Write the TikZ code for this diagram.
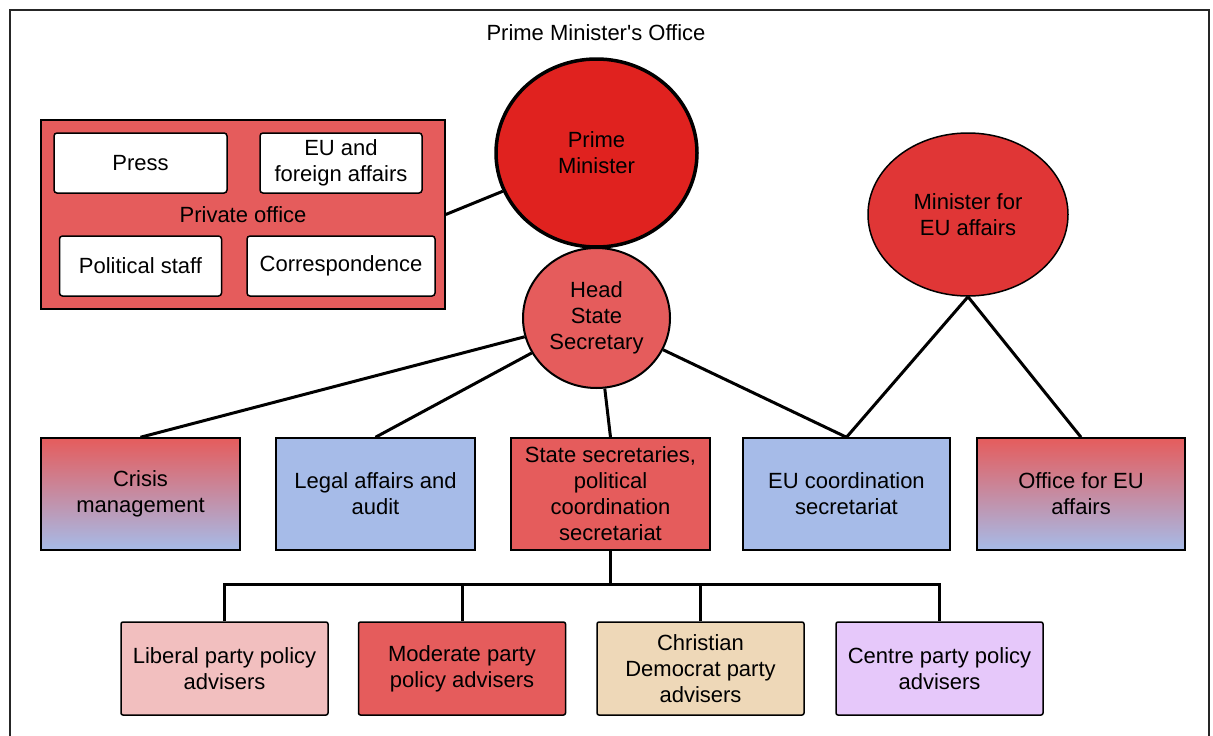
\documentclass[tikz,border=0pt]{standalone}
\usepackage{fontspec}
\setmainfont{Liberation Sans}
\usetikzlibrary{shapes.geometric}
\definecolor{pmred}{RGB}{224,34,31}
\definecolor{lightred}{RGB}{229,92,92}
\definecolor{eured}{RGB}{224,54,54}
\definecolor{unitblue}{RGB}{166,187,232}
\definecolor{libpink}{RGB}{242,191,191}
\definecolor{cdtan}{RGB}{238,216,184}
\definecolor{centrelilac}{RGB}{230,200,250}
\begin{document}
\begin{tikzpicture}[x=1pt, y=-1pt, font=\fontsize{22}{26}\selectfont,
        office/.style = {draw, line width=1.5pt, fill=lightred, inner sep=0pt},
        desk/.style = {draw, line width=1.5pt, fill=white, rounded corners=3pt, inner sep=0pt, minimum height=60pt, align=center},
        head/.style = {draw, ellipse, inner sep=0pt, align=center},
        unit/.style = {draw, line width=1.5pt, inner sep=0pt, minimum height=112pt, align=center},
        party/.style = {draw, line width=1.5pt, rounded corners=2pt, inner sep=0pt, minimum width=207pt, minimum height=93pt, align=center},
        link/.style = {line width=3pt}]
    \useasboundingbox (0,0) rectangle (1213,736);
    \draw[line width=1.5pt, black!85] (10,740) -- (10,10) -- (1209,10) -- (1209,740);
    \node (title) at (596,33) {Prime Minister\textquotesingle s Office};

    % private office
    \node[office, minimum width=404pt, minimum height=189pt] (private) at (243,214.5) {Private office};
    \node[desk, minimum width=173pt] (press) at (140.5,163) {Press};
    \node[desk, minimum width=162pt] (eufa) at (341,163) {EU and\\foreign affairs};
    \node[desk, minimum width=162pt] (polstaff) at (140.5,266) {Political staff};
    \node[desk, minimum width=188pt] (corr) at (341,266) {Correspondence};

    % ministers
    \node[head, line width=3.5pt, fill=pmred, minimum width=201pt, minimum height=188pt] (pm) at (596.5,153) {Prime\\Minister};
    \node[head, line width=2pt, fill=lightred, minimum width=147pt, minimum height=140pt] (hss) at (596.5,318) {Head\\State\\Secretary};
    \node[head, line width=1.5pt, fill=eured, minimum width=200pt, minimum height=163pt] (meu) at (968,214.5) {Minister for\\EU affairs};

    % units
    \node[unit, minimum width=199pt, top color=lightred, bottom color=unitblue] (crisis) at (140.5,494) {Crisis\\management};
    \node[unit, minimum width=199pt, fill=unitblue] (legal) at (375.5,494) {Legal affairs and\\audit};
    \node[unit, minimum width=199pt, fill=lightred] (statesec) at (610.5,494) {State secretaries,\\political\\coordination\\secretariat};
    \node[unit, minimum width=207pt, fill=unitblue] (eucoord) at (846.5,494) {EU coordination\\secretariat};
    \node[unit, minimum width=208pt, top color=lightred, bottom color=unitblue] (euoffice) at (1081,494) {Office for EU\\affairs};

    % party advisers
    \node[party, fill=libpink] (liberal) at (224.5,668.5) {Liberal party policy\\advisers};
    \node[party, fill=lightred] (moderate) at (462,668.5) {Moderate party\\policy advisers};
    \node[party, fill=cdtan] (christian) at (700.5,668.5) {Christian\\Democrat party\\advisers};
    \node[party, fill=centrelilac] (centre) at (939.5,668.5) {Centre party policy\\advisers};
    \coordinate (bus) at (610.5,584);

    \draw[link] (private.east) -- (pm);
    \draw[link] (hss) -- (crisis.north);
    \draw[link] (hss) -- (legal.north);
    \draw[link] (hss) -- (statesec.north);
    \draw[link] (hss) -- (eucoord.north);
    \draw[link] (meu.south) -- (eucoord.north);
    \draw[link] (meu.south) -- (euoffice.north);
    \draw[link] (statesec.south) -- (bus);
    \draw[link] (liberal.north) -- (liberal.north |- bus) -- (centre.north |- bus) -- (centre.north);
    \foreach \n in {moderate, christian}
        \draw[link] (\n.north) -- (\n.north |- bus);
\end{tikzpicture}
\end{document}
